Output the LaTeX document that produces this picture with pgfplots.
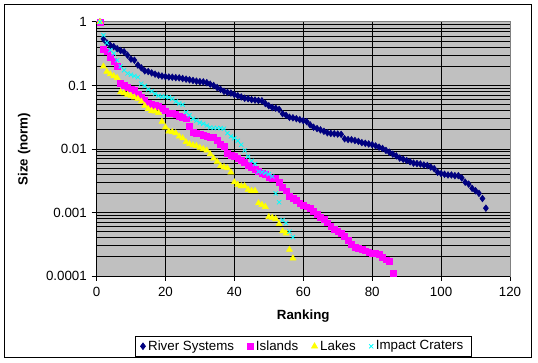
\documentclass[border=0pt]{standalone}
\usepackage{pgfplots}
\pgfplotsset{compat=1.18}
\usepackage{pgfplotstable}
\usepackage{fontspec}
\setmainfont{Liberation Sans}
\definecolor{plotbg}{RGB}{192,192,192}
\definecolor{rivc}{RGB}{0,0,128}
\definecolor{islc}{RGB}{255,0,255}
\definecolor{lakc}{RGB}{255,255,0}
\definecolor{crac}{RGB}{0,255,255}
\definecolor{bordgray}{RGB}{128,128,128}

\pgfplotstableread{
r v
1 1
2 0.54
3 0.47
4 0.43
5 0.41
6 0.38
7 0.355
8 0.34
9 0.30
10 0.26
11 0.25
12 0.21
13 0.19
14 0.17
15 0.166
16 0.158
17 0.151
18 0.145
19 0.141
20 0.138
21 0.136
22 0.135
23 0.133
24 0.132
25 0.129
26 0.126
27 0.123
28 0.120
29 0.117
30 0.115
31 0.114
32 0.111
33 0.105
34 0.100
35 0.093
36 0.087
37 0.081
38 0.078
39 0.076
40 0.072
41 0.069
42 0.066
43 0.063
44 0.062
45 0.060
46 0.059
47 0.058
48 0.0575
49 0.052
50 0.048
51 0.045
52 0.044
53 0.042
54 0.036
55 0.034
56 0.0316
57 0.031
58 0.030
59 0.029
60 0.028
61 0.027
62 0.024
63 0.022
64 0.021
65 0.020
66 0.019
67 0.018
68 0.0176
69 0.0174
70 0.0172
71 0.017
72 0.0145
73 0.0141
74 0.014
75 0.0136
76 0.0132
77 0.0126
78 0.0123
79 0.0120
80 0.0117
81 0.0112
82 0.0107
83 0.0102
84 0.0095
85 0.0089
86 0.0083
87 0.0078
88 0.0072
89 0.0069
90 0.0066
91 0.0063
92 0.0060
93 0.0059
94 0.0058
95 0.0056
96 0.0055
97 0.0052
98 0.0049
99 0.0043
100 0.0041
101 0.0040
102 0.0039
103 0.0039
104 0.0038
105 0.0038
106 0.0035
107 0.0030
108 0.0028
109 0.0024
110 0.0022
111 0.0020
112 0.00166
113 0.00117
}\rivers

\pgfplotstableread{
r v
1 1
2 0.37
3 0.34
4 0.28
5 0.24
6 0.20
7 0.11
8 0.102
9 0.095
10 0.089
11 0.084
12 0.072
13 0.065
14 0.058
15 0.052
16 0.050
17 0.049
18 0.047
19 0.044
20 0.040
21 0.037
22 0.036
23 0.035
24 0.033
25 0.032
26 0.030
27 0.023
28 0.0186
29 0.0178
30 0.0174
31 0.0166
32 0.0158
33 0.0155
34 0.0151
35 0.0138
36 0.0117
37 0.0110
38 0.0087
39 0.0079
40 0.0076
41 0.0071
42 0.0066
43 0.0062
44 0.0056
45 0.0052
46 0.0048
47 0.0045
48 0.0042
49 0.0040
50 0.0036
51 0.0035
52 0.0035
53 0.0030
54 0.0025
55 0.0022
56 0.0018
57 0.00166
58 0.00155
59 0.00141
60 0.00132
61 0.00123
62 0.00115
63 0.00105
64 0.00093
65 0.00085
66 0.00078
67 0.00069
68 0.00060
69 0.00054
70 0.00050
71 0.00047
72 0.00042
73 0.00036
74 0.00032
75 0.00028
76 0.00027
77 0.00026
78 0.00025
79 0.00024
80 0.00023
81 0.00023
82 0.00022
83 0.00020
84 0.00018
85 0.00017
86 0.00011
}\islands

\pgfplotstableread{
r v
1 1
2 0.20
3 0.166
4 0.151
5 0.141
6 0.132
7 0.079
8 0.076
9 0.072
10 0.069
11 0.065
12 0.062
13 0.056
14 0.048
15 0.043
16 0.040
17 0.039
18 0.037
19 0.027
20 0.022
21 0.019
22 0.0186
23 0.0178
24 0.0158
25 0.0148
26 0.0129
27 0.0120
28 0.0115
29 0.0112
30 0.0105
31 0.0100
32 0.0095
33 0.0083
34 0.0071
35 0.0063
36 0.0054
37 0.0052
38 0.0050
39 0.0043
40 0.0030
41 0.00275
42 0.0026
43 0.0026
44 0.0023
45 0.0022
46 0.0022
47 0.0014
48 0.00132
49 0.00123
50 0.00085
51 0.00083
52 0.00079
53 0.00066
54 0.00051
55 0.00047
56 0.00026
57 0.00019
}\lakes

\pgfplotstableread{
r v
1 1
2 0.62
3 0.47
4 0.36
5 0.32
6 0.25
7 0.20
8 0.174
9 0.155
10 0.148
11 0.141
12 0.135
13 0.107
14 0.098
15 0.087
16 0.081
17 0.074
18 0.069
19 0.067
20 0.066
21 0.065
22 0.062
23 0.056
24 0.052
25 0.050
26 0.038
27 0.034
28 0.030
29 0.028
30 0.026
31 0.025
32 0.0234
33 0.0219
34 0.0214
35 0.0214
36 0.0214
37 0.0209
38 0.0178
39 0.0158
40 0.0148
41 0.0135
42 0.0117
43 0.0095
44 0.0076
45 0.0065
46 0.0058
47 0.0044
48 0.0043
49 0.0042
50 0.0040
51 0.0037
52 0.0020
53 0.00145
54 0.00076
55 0.00068
56 0.00050
57 0.00041
}\craters

\begin{document}
\begin{tikzpicture}
\useasboundingbox (0,0) rectangle (403.5pt,272.25pt);
\draw[black, line width=0.75pt] (3.375pt,4.125pt) rectangle (398.625pt,268.875pt);
\begin{axis}[
  at={(72.375pt,65.25pt)}, anchor=south west,
  scale only axis, width=310.125pt, height=190.5pt,
  ymode=log,
  xmin=0, xmax=120, ymin=1e-4, ymax=1,
  xtick={0,20,40,60,80,100,120},
  ytick={1e-4,1e-3,1e-2,1e-1,1},
  yticklabels={0.0001,0.001,0.01,0.1,1},
  xticklabels={0,20,40,60,80,100,120},
  tick align=outside, tick pos=left,
  major tick length=3.75pt, minor tick length=0pt,
  every tick/.style={black, line width=0.75pt},
  axis line style={draw=bordgray, line width=0.75pt},
  axis background/.style={fill=plotbg},
  xmajorgrids, ymajorgrids, yminorgrids,
  major grid style={black, line width=0.75pt},
  minor grid style={black, line width=0.75pt},
  tick label style={font=\fontsize{10pt}{12pt}\selectfont, black},
  xticklabel style={yshift=-1pt},
  xlabel={Ranking}, ylabel={Size (norm)},
  label style={font=\fontsize{10pt}{12pt}\selectfont\bfseries},
  xlabel style={at={(axis description cs:0.5,-0.156)}, anchor=center},
  ylabel style={at={(axis description cs:-0.175,0.5)}, anchor=center},
  clip=false,
  legend columns=-1,
  legend style={at={(axis description cs:0.5,-0.236)}, anchor=north,
    draw=black, line width=0.75pt, font=\fontsize{10pt}{12pt}\selectfont,
    inner xsep=4pt, inner ysep=1pt,
    /tikz/every even column/.append style={column sep=8pt}},
  legend image code/.code={\draw[#1, line width=0.5pt] plot coordinates {(0.1cm,0cm)};},
]
\addplot[only marks, mark=diamond*, mark size=2.5pt, color=rivc, mark options={draw=rivc, fill=rivc}] table[x=r, y=v] {\rivers};
\addlegendentry{River Systems}
\addplot[only marks, mark=square*, mark size=2.2pt, color=islc, mark options={draw=islc, fill=islc}] table[x=r, y=v] {\islands};
\addlegendentry{Islands}
\addplot[only marks, mark=triangle*, mark size=2.6pt, color=lakc, mark options={draw=lakc, fill=lakc}] table[x=r, y=v] {\lakes};
\addlegendentry{Lakes}
\addplot[only marks, mark=x, mark size=2.2pt, color=crac, mark options={line width=0.6pt}] table[x=r, y=v] {\craters};
\addlegendentry{Impact Craters}
\draw[black, line width=0.75pt] (rel axis cs:0,1) -- (rel axis cs:0,0) -- (rel axis cs:1,0);
\end{axis}
\end{tikzpicture}
\end{document}
